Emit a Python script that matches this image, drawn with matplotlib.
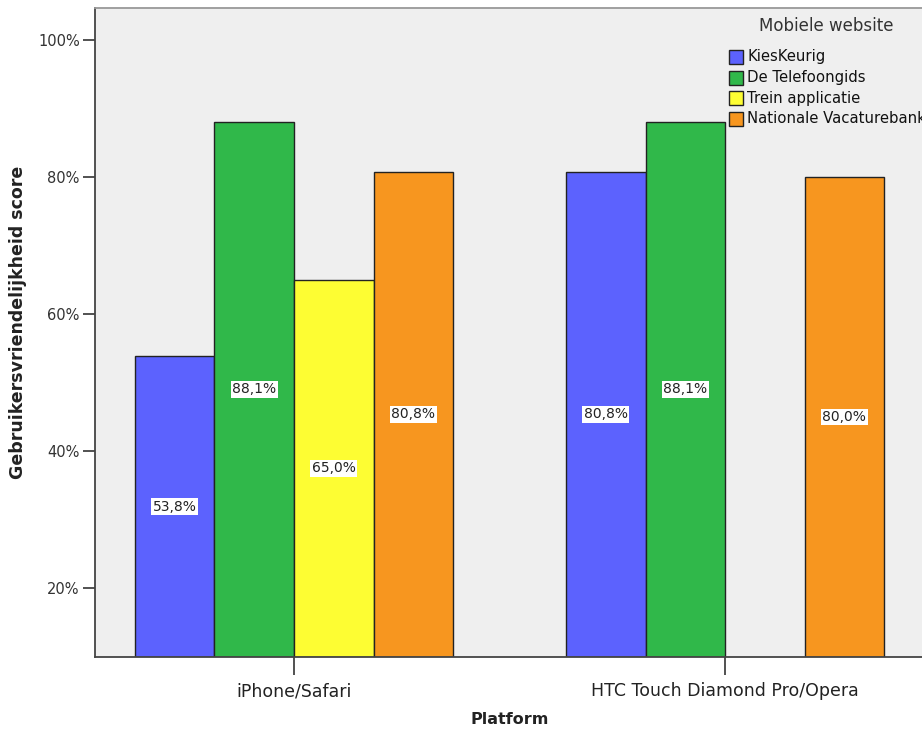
import numpy as np
import matplotlib
matplotlib.use("Agg")
import matplotlib.pyplot as plt
from matplotlib.patches import Rectangle

platforms = ["iPhone/Safari", "HTC Touch Diamond Pro/Opera"]
websites = ["KiesKeurig", "De Telefoongids", "Trein applicatie", "Nationale Vacaturebank"]
scores = {
    "KiesKeurig": [53.8, 80.8],
    "De Telefoongids": [88.1, 88.1],
    "Trein applicatie": [65.0, np.nan],
    "Nationale Vacaturebank": [80.8, 80.0],
}
colors = ["#5c62fe", "#30b84a", "#fdfd33", "#f7961f"]
y_ticks = [20, 40, 60, 80, 100]

W, H = 922, 733
fig = plt.figure(figsize=(W / 100, H / 100), dpi=100)
fig.patch.set_facecolor("white")

left, right, top, bottom = 95, 922, 8, 657
ax = fig.add_axes([left / W, 1 - bottom / H, (right - left) / W, (bottom - top) / H])
ax.set_facecolor("#efefef")

ymin, ymax = 9.93, 104.67
ax.set_ylim(ymin, ymax)
ax.set_xlim(-0.4617, 1.457)

bw = 0.1845
x = np.arange(len(platforms))
for i, (name, col) in enumerate(zip(websites, colors)):
    vals = np.array(scores[name], dtype=float)
    pos = x + (i - 1.5) * bw
    for p, v in zip(pos, vals):
        if np.isnan(v):
            continue
        ax.bar(p, v - ymin, bottom=ymin, width=bw, color=col,
               edgecolor="#222222", linewidth=1.0, zorder=2)
        ax.text(p, (ymin + v) / 2, f"{v:.1f}".replace(".", ",") + "%",
                ha="center", va="center", fontsize=10, color="#222222",
                zorder=3,
                bbox=dict(boxstyle="square,pad=0.1", fc="white", ec="none"))

ax.set_yticks(y_ticks)
ax.set_yticklabels([f"{t}%" for t in y_ticks], fontsize=10.5, color="#333333")
ax.set_xticks(x)
ax.set_xticklabels(platforms, fontsize=12.5, color="#222222")
ax.tick_params(axis="y", length=9, width=1.2, color="#333333", pad=2)
ax.tick_params(axis="x", length=13, width=1.2, color="#333333", pad=5)

for s in ["left", "bottom"]:
    ax.spines[s].set_color("#444444")
    ax.spines[s].set_linewidth(1.3)
ax.spines["top"].set_color("#999999")
ax.spines["top"].set_linewidth(1.3)
ax.spines["right"].set_visible(False)

ax.set_ylabel("Gebruikersvriendelijkheid score", fontsize=12.5, fontweight="bold",
              color="#222222")
ax.yaxis.set_label_coords(-(95 - 18) / (right - left), (657 - 322) / (bottom - top))
ax.set_xlabel("Platform", fontsize=11.5, fontweight="bold", color="#222222")
ax.xaxis.set_label_coords((510 - left) / (right - left), -(720 - 657) / (bottom - top))
ax.xaxis.label.set_va("center")
ax.yaxis.label.set_va("center")

# legend drawn in figure pixel coordinates
fig.text(826 / W, 1 - 26 / H, "Mobiele website", ha="center", va="center",
         fontsize=12, color="#333333")
for k, (name, col) in enumerate(zip(websites, colors)):
    yc = 57 + k * 20.6
    fig.patches.append(Rectangle((729 / W, 1 - (yc + 7) / H), 14 / W, 14 / H,
                                 transform=fig.transFigure, facecolor=col,
                                 edgecolor="#222222", linewidth=1.0))
    fig.text(747 / W, 1 - yc / H, name, ha="left", va="center",
             fontsize=10.7, color="#111111")

fig.savefig("out.png", dpi=100)
